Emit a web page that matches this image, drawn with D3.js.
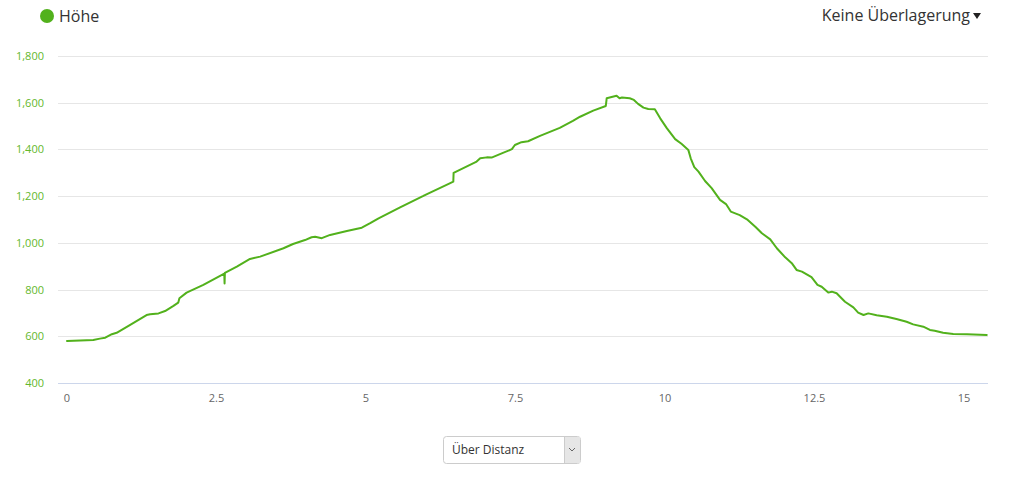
<!DOCTYPE html>
<html><head><meta charset="utf-8">
<script src="https://cdn.jsdelivr.net/npm/d3@7/dist/d3.min.js"></script>
<style>
body{margin:0;background:#fff;font-family:"Open Sans",sans-serif;}
svg{display:block;}
</style></head>
<body>
<svg id="c" width="1024" height="478"></svg>
<script>
const seriesName = "Höhe";
const overlayLabel = "Keine Überlagerung";
const selectLabel = "Über Distanz";
const yTicks = [400, 600, 800, 1000, 1200, 1400, 1600, 1800];
const xTicks = [0, 2.5, 5, 7.5, 10, 12.5, 15];
const distanceKm = [0.00,0.44,0.55,0.64,0.75,0.83,1.05,1.33,1.39,1.53,1.64,1.78,1.86,1.88,2.00,2.28,2.63,2.635,2.64,2.84,3.06,3.23,3.62,3.78,3.98,4.09,4.15,4.26,4.40,4.68,4.93,5.07,5.21,5.57,5.96,6.02,6.40,6.46,6.465,6.85,6.91,7.02,7.10,7.30,7.44,7.49,7.60,7.71,7.91,8.24,8.46,8.58,8.80,9.01,9.025,9.19,9.24,9.28,9.41,9.48,9.55,9.64,9.72,9.83,9.92,10.03,10.17,10.28,10.39,10.43,10.49,10.56,10.67,10.78,10.92,11.02,11.10,11.25,11.37,11.51,11.62,11.76,11.87,12.01,12.12,12.20,12.29,12.45,12.55,12.62,12.73,12.79,12.87,13.01,13.15,13.23,13.32,13.40,13.54,13.71,13.87,14.04,14.15,14.32,14.43,14.51,14.65,14.82,15.05,15.38];
const elevationM = [580,584,590,594,609,615,648,691,694,698,708,730,744,763,787,820,868,826,871,898,931,941,977,995,1012,1024,1026,1020,1034,1051,1065,1084,1105,1152,1201,1209,1255,1262,1300,1348,1362,1366,1365,1386,1401,1419,1431,1435,1458,1492,1522,1540,1566,1586,1619,1630,1619,1622,1619,1612,1595,1579,1573,1572,1533,1491,1444,1423,1398,1362,1324,1305,1265,1234,1184,1166,1134,1119,1101,1069,1041,1015,977,938,913,884,877,853,820,812,787,791,784,748,724,701,691,698,690,684,674,662,651,641,627,624,615,610,609,606];

const svg = d3.select("#c");
const green = "#52b11c";
const labelGreen = "#63b82c";
const plotL = 58, plotR = 988;

const x = d3.scaleLinear().domain([0, 15]).range([67, 964]);
const y = d3.scaleLinear().domain([400, 1800]).range([383, 56]);

// gridlines
svg.append("g").selectAll("line").data(yTicks.filter(d => d !== 400)).join("line")
  .attr("x1", plotL).attr("x2", plotR)
  .attr("y1", d => Math.round(y(d)) + 0.5).attr("y2", d => Math.round(y(d)) + 0.5)
  .attr("stroke", "#e6e6e6").attr("stroke-width", 1);

// x axis line
svg.append("line").attr("x1", plotL).attr("x2", plotR)
  .attr("y1", Math.round(y(400)) + 0.5).attr("y2", Math.round(y(400)) + 0.5)
  .attr("stroke", "#ccd6eb").attr("stroke-width", 1);

// y labels
svg.append("g").selectAll("text").data(yTicks).join("text")
  .attr("x", 44).attr("y", d => y(d) + 4)
  .attr("text-anchor", "end").attr("font-size", 11).attr("fill", labelGreen)
  .text(d => d3.format(",")(d));

// x labels
svg.append("g").selectAll("text").data(xTicks).join("text")
  .attr("x", d => x(d)).attr("y", 402)
  .attr("text-anchor", "middle").attr("font-size", 11).attr("fill", "#666")
  .text(d => String(d));

// line
const data = distanceKm.map((d, i) => [d, elevationM[i]]);
svg.append("path").datum(data)
  .attr("d", d3.line().x(d => x(d[0])).y(d => y(d[1])))
  .attr("fill", "none").attr("stroke", green).attr("stroke-width", 2)
  .attr("stroke-linejoin", "round").attr("stroke-linecap", "round");

// legend
svg.append("circle").attr("cx", 47).attr("cy", 16).attr("r", 7).attr("fill", green);
svg.append("text").attr("x", 59).attr("y", 22).attr("font-size", 16).attr("fill", "#333").text(seriesName);

svg.append("text").attr("x", 970).attr("y", 21).attr("text-anchor", "end")
  .attr("font-size", 16).attr("fill", "#333").text(overlayLabel);
svg.append("path").attr("d", "M973,13 L981,13 L977,19 Z").attr("fill", "#222");

// dropdown
const dd = svg.append("g");
dd.append("rect").attr("x", 443.5).attr("y", 436.5).attr("width", 137).attr("height", 27).attr("rx", 3)
  .attr("fill", "#fff").attr("stroke", "#ccc");
dd.append("rect").attr("x", 564.5).attr("y", 437).attr("width", 15.5).attr("height", 26)
  .attr("fill", "#e6e6e6");
dd.append("line").attr("x1", 564.5).attr("x2", 564.5).attr("y1", 437).attr("y2", 463).attr("stroke", "#ccc");
dd.append("path").attr("d", "M569,448 L572,451 L575,448").attr("fill", "none").attr("stroke", "#666").attr("stroke-width", 1);
dd.append("text").attr("x", 452).attr("y", 454).attr("font-size", 12).attr("fill", "#333").text(selectLabel);
</script>
</body></html>
